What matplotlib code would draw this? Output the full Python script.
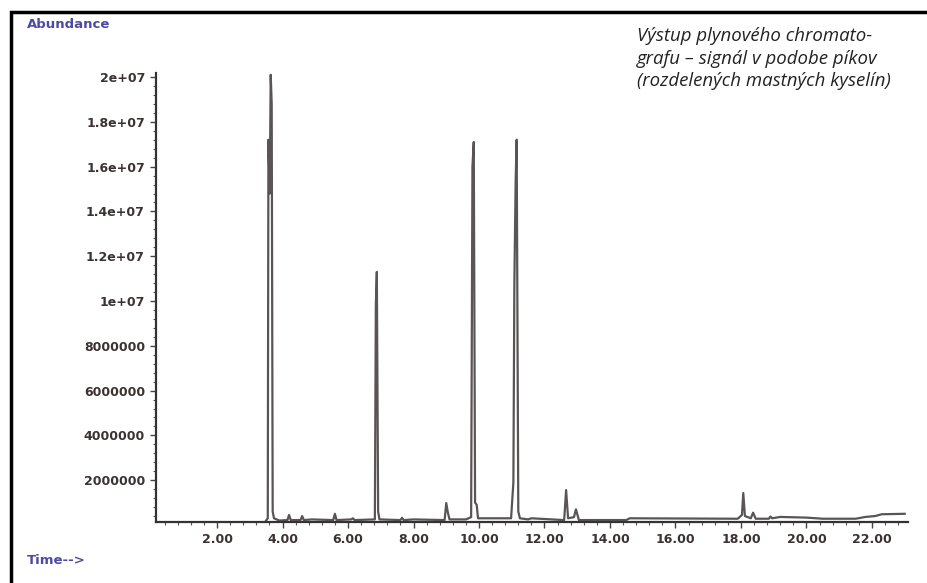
import matplotlib.pyplot as plt
from matplotlib.patches import Rectangle
from matplotlib.ticker import MultipleLocator, FixedLocator

# chromatogram trace (time in min, abundance)
time_min = [3.50, 3.55, 3.57, 3.61, 3.64, 3.67, 3.70, 3.74, 3.90,
            4.15, 4.20, 4.25, 4.55, 4.60, 4.65, 4.90, 5.55, 5.60, 5.65,
            6.10, 6.15, 6.20, 6.82, 6.85, 6.88, 6.92, 6.96, 7.60, 7.65,
            7.70, 8.00, 8.95, 9.00, 9.05, 9.10, 9.60, 9.76, 9.80, 9.84,
            9.88, 9.93, 9.97, 10.98, 11.05, 11.08, 11.12, 11.15, 11.20,
            11.25, 11.50, 11.60, 12.60, 12.66, 12.72, 12.90, 12.96, 13.05,
            14.50, 14.60, 17.90, 18.03, 18.07, 18.12, 18.30, 18.37, 18.45,
            18.85, 18.90, 18.95, 19.20, 20.00, 20.50, 21.50, 21.80, 22.10,
            22.30, 23.00]
abundance = [0.20e6, 0.30e6, 17.2e6, 14.8e6, 20.1e6, 18.8e6, 0.60e6, 0.30e6, 0.20e6,
             0.22e6, 0.45e6, 0.22e6, 0.22e6, 0.40e6, 0.22e6, 0.25e6, 0.22e6, 0.50e6, 0.22e6,
             0.25e6, 0.30e6, 0.22e6, 0.25e6, 9.8e6, 11.3e6, 0.60e6, 0.25e6, 0.22e6, 0.32e6,
             0.22e6, 0.25e6, 0.22e6, 0.98e6, 0.55e6, 0.25e6, 0.25e6, 0.35e6, 16.0e6, 17.1e6,
             1.0e6, 0.90e6, 0.30e6, 0.30e6, 1.9e6, 10.8e6, 15.4e6, 17.2e6, 0.60e6,
             0.30e6, 0.25e6, 0.30e6, 0.22e6, 1.56e6, 0.30e6, 0.35e6, 0.70e6, 0.22e6,
             0.22e6, 0.30e6, 0.28e6, 0.45e6, 1.43e6, 0.40e6, 0.30e6, 0.55e6, 0.28e6,
             0.28e6, 0.38e6, 0.30e6, 0.36e6, 0.33e6, 0.28e6, 0.28e6, 0.36e6, 0.40e6,
             0.48e6, 0.50e6]

y_ticks = [2e6, 4e6, 6e6, 8e6, 1e7, 1.2e7, 1.4e7, 1.6e7, 1.8e7, 2e7]
y_labels = ['2000000', '4000000', '6000000', '8000000', '1e+07',
            '1.2e+07', '1.4e+07', '1.6e+07', '1.8e+07', '2e+07']
x_ticks = [2, 4, 6, 8, 10, 12, 14, 16, 18, 20, 22]

caption = ('Výstup plynového chromato-\n'
           'grafu – signál v podobe píkov\n'
           '(rozdelených mastných kyselín)')

tick_color = '#3b3232'
label_blue = '#4b4ba6'

fig = plt.figure(figsize=(9.28, 5.83), dpi=100)
fig.patch.set_facecolor('white')

# cropped black frame (only top and left edges visible)
fig.patches.append(Rectangle((11 / 928, -0.1), 1.2, 1 - 12 / 583 + 0.1,
                             transform=fig.transFigure, fill=False,
                             edgecolor='black', linewidth=2.5))

ax = fig.add_axes([156 / 928, 1 - 522 / 583, (908 - 156) / 928, (522 - 73) / 583])
ax.plot(time_min, abundance, color='#5a5555', linewidth=1.6)

ax.set_xlim(0.137, 23.1)
ax.set_ylim(0.134e6, 20.18e6)

for side in ['top', 'right']:
    ax.spines[side].set_visible(False)
for side in ['left', 'bottom']:
    ax.spines[side].set_color('#333333')
    ax.spines[side].set_linewidth(1.6)

ax.xaxis.set_major_locator(FixedLocator(x_ticks))
ax.set_xticklabels([f'{t:.2f}' for t in x_ticks])
ax.xaxis.set_minor_locator(MultipleLocator(0.4))
ax.yaxis.set_major_locator(FixedLocator(y_ticks))
ax.set_yticklabels(y_labels)
ax.yaxis.set_minor_locator(MultipleLocator(4e5))

ax.tick_params(axis='both', which='major', direction='out', length=4,
               width=1, color='#444444', labelcolor=tick_color,
               labelsize=9, pad=4)
ax.tick_params(axis='both', which='minor', direction='out', length=2.5,
               width=0.8, color='#555555')
for lbl in ax.get_xticklabels() + ax.get_yticklabels():
    lbl.set_fontweight('bold')

fig.text(27 / 928, 1 - 24 / 583, 'Abundance', color=label_blue, fontsize=9.5,
         fontweight='bold', va='center', ha='left')
fig.text(27 / 928, 1 - 560 / 583, 'Time-->', color=label_blue, fontsize=9.5,
         fontweight='bold', va='center', ha='left')

fig.text(637 / 928, 1 - 27 / 583, caption, fontsize=13.4, style='italic',
         family='Open Sans', color='#222222', va='top', ha='left',
         linespacing=1.33)

fig.savefig('out.png', dpi=100, facecolor='white')
